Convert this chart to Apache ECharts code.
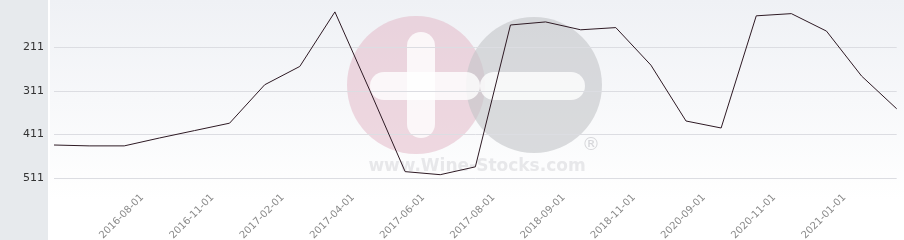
<!DOCTYPE html>
<html><head><meta charset="utf-8">
<script src="https://cdn.jsdelivr.net/npm/echarts@6/dist/echarts.min.js"></script>
<style>html,body{margin:0;padding:0;background:#fff}#c{width:904px;height:240px}</style>
</head><body><div id="c"></div>
<script>
const categories = ['2016-06-01','2016-07-01','2016-08-01','2016-09-01','2016-11-01','2016-12-01','2017-02-01','2017-03-01','2017-04-01','2017-05-01','2017-06-01','2017-07-01','2017-08-01','2018-08-01','2018-09-01','2018-10-01','2018-11-01','2020-08-01','2020-09-01','2020-10-01','2020-11-01','2020-12-01','2021-01-01','2021-02-01','2021-03-01'];
const rankValues = [435,437,437,419,402,385,297,255,130,311,496,503,485,160,153,171,166,252,380,396,139,134,174,277,352];
const yTicks = [211,311,411,511];

const chart = echarts.init(document.getElementById('c'), null, {renderer:'canvas'});
const labelShown = (i)=>i%2===0 && i>=2 && i<=22;
chart.setOption({
  animation:false,
  graphic:[
    {type:'rect', z:-10, silent:true, shape:{x:0,y:0,width:48,height:240}, style:{fill:'#e7eaed'}},
    {type:'rect', z:-10, silent:true, shape:{x:50,y:0,width:854,height:200},
      style:{fill:new echarts.graphic.LinearGradient(0,0,0,1,[{offset:0,color:'#eff1f5'},{offset:1,color:'#ffffff'}])}},
    {type:'group', z:5, silent:true, children:[
      {type:'circle', shape:{cx:416,cy:85,r:69}, style:{fill:'rgba(226,180,196,0.5)'}},
      {type:'circle', shape:{cx:534,cy:85,r:68}, style:{fill:'rgba(195,196,200,0.6)'}},
      {type:'rect', shape:{x:407,y:32,width:28,height:106,r:14}, style:{fill:'rgba(255,255,255,0.8)'}},
      {type:'rect', shape:{x:370,y:72,width:110,height:28,r:14}, style:{fill:'rgba(255,255,255,0.8)'}},
      {type:'rect', shape:{x:480,y:72,width:105,height:28,r:14}, style:{fill:'rgba(255,255,255,0.8)'}},
      {type:'text', style:{x:477,y:167,text:'www.Wine-Stocks.com',fill:'rgba(200,200,205,0.4)',font:'bold 17px "DejaVu Sans", sans-serif',align:'center',verticalAlign:'middle'}},
      {type:'text', style:{x:591,y:145,text:'®',fill:'rgba(190,190,195,0.6)',font:'18px "DejaVu Sans", sans-serif',align:'center',verticalAlign:'middle'}}
    ]}
  ],
  grid:[
    {left:54,width:842.7,top:3.6,bottom:40,containLabel:false,outerBoundsMode:'none'},
    {left:72,width:842.7,top:3.6,bottom:40,containLabel:false,outerBoundsMode:'none'}
  ],
  xAxis:[
    {type:'category',data:categories,boundaryGap:false,gridIndex:0,
      axisLine:{show:false},axisTick:{show:false},splitLine:{show:false},axisLabel:{show:false}},
    {type:'category',data:categories,boundaryGap:false,gridIndex:1,
      axisLine:{show:false},axisTick:{show:false},splitLine:{show:false},
      axisLabel:{interval:labelShown,rotate:45,color:'#8a8a8a',fontSize:10,fontFamily:'DejaVu Sans',margin:-4}}
  ],
  yAxis:[
    {type:'value',inverse:true,min:111,max:561,interval:100,gridIndex:0,
      axisLine:{show:false},axisTick:{show:false},
      axisLabel:{color:'#333',fontSize:11,fontFamily:'DejaVu Sans',margin:10,
        formatter:(v)=>yTicks.indexOf(v)>=0?String(v):''},
      splitLine:{lineStyle:{color:['transparent','#dcdde2','#dcdde2','#dcdde2','#dcdde2','transparent'],width:1}}},
    {type:'value',inverse:true,min:111,max:561,gridIndex:1,show:false}
  ],
  series:[{type:'line',data:rankValues,symbol:'none',z:10,xAxisIndex:0,yAxisIndex:0,lineStyle:{color:'#2e1a24',width:1}}]
});
</script></body></html>
